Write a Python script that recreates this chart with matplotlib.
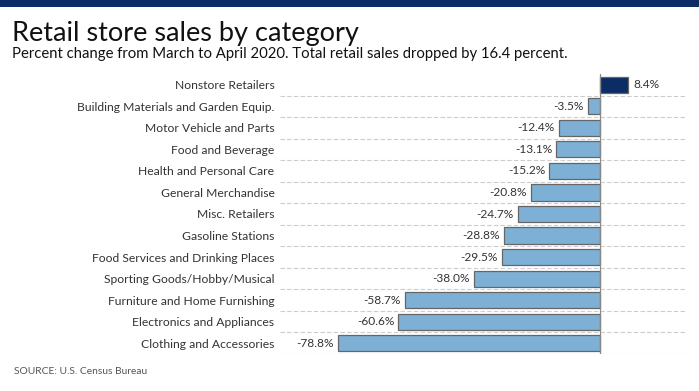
import matplotlib

matplotlib.use('Agg')

import matplotlib.pyplot as plt

plt.rcParams['font.family'] = ['Lato', 'DejaVu Sans']

categories = [
    'Nonstore Retailers',
    'Building Materials and Garden Equip.',
    'Motor Vehicle and Parts',
    'Food and Beverage',
    'Health and Personal Care',
    'General Merchandise',
    'Misc. Retailers',
    'Gasoline Stations',
    'Food Services and Drinking Places',
    'Sporting Goods/Hobby/Musical',
    'Furniture and Home Furnishing',
    'Electronics and Appliances',
    'Clothing and Accessories',
]
changes = [8.4, -3.5, -12.4, -13.1, -15.2, -20.8, -24.7, -28.8, -29.5, -38.0, -58.7, -60.6, -78.8]

title = 'Retail store sales by category'
subtitle = 'Percent change from March to April 2020. Total retail sales dropped by 16.4 percent.'
source = 'SOURCE: U.S. Census Bureau'

navy = '#0c2c66'
light = '#7eb0d6'

fig = plt.figure(figsize=(6.99, 3.91), dpi=100)
fig.patch.set_facecolor('white')

# top band
fig.patches.append(plt.Rectangle((0, 1 - 7 / 391), 1, 7 / 391, transform=fig.transFigure,
                                  facecolor=navy, edgecolor='none'))

fig.text(12 / 699, 1 - 41 / 391, title, fontsize=19.5, color='#111111', va='baseline')
fig.text(12 / 699, 1 - 58 / 391, subtitle, fontsize=10.75, color='#111111', va='baseline')
fig.text(14 / 699, 1 - 374 / 391, source, fontsize=7.4, color='#555555', va='baseline')

ax = fig.add_axes([280 / 699, 1 - 354 / 391, (686 - 280) / 699, (354 - 74) / 391])
n = len(categories)
ys = list(range(n))
colors = [navy if v > 0 else light for v in changes]
ax.barh(ys, changes, height=0.75, color=colors, edgecolor='#666666', linewidth=0.9, zorder=3)

ax.set_xlim(-96.2, 25.9)
ax.set_ylim(n - 0.5, -0.5)

for i in range(n - 1):
    ax.axhline(i + 0.5, color='#cccccc', lw=0.8, ls=(0, (4, 2)), zorder=1)
ax.axhline(n - 0.5, color='#eeeeee', lw=1, zorder=1)
ax.axvline(0, color='#888888', lw=0.9, zorder=4)

for y, v in zip(ys, changes):
    if v > 0:
        ax.annotate(f'{v:.1f}%', (v, y), xytext=(4, 0), textcoords='offset points',
                    ha='left', va='center', fontsize=8.6, color='#333333')
    else:
        ax.annotate(f'{v:.1f}%', (v, y), xytext=(-3, 0), textcoords='offset points',
                    ha='right', va='center', fontsize=8.6, color='#333333')

ax.set_yticks(ys)
ax.set_yticklabels(categories, fontsize=8.7, color='#333333')
ax.tick_params(axis='y', length=0, pad=4)
ax.set_xticks([])
for s in ax.spines.values():
    s.set_visible(False)

fig.savefig('out.png', dpi=100)
